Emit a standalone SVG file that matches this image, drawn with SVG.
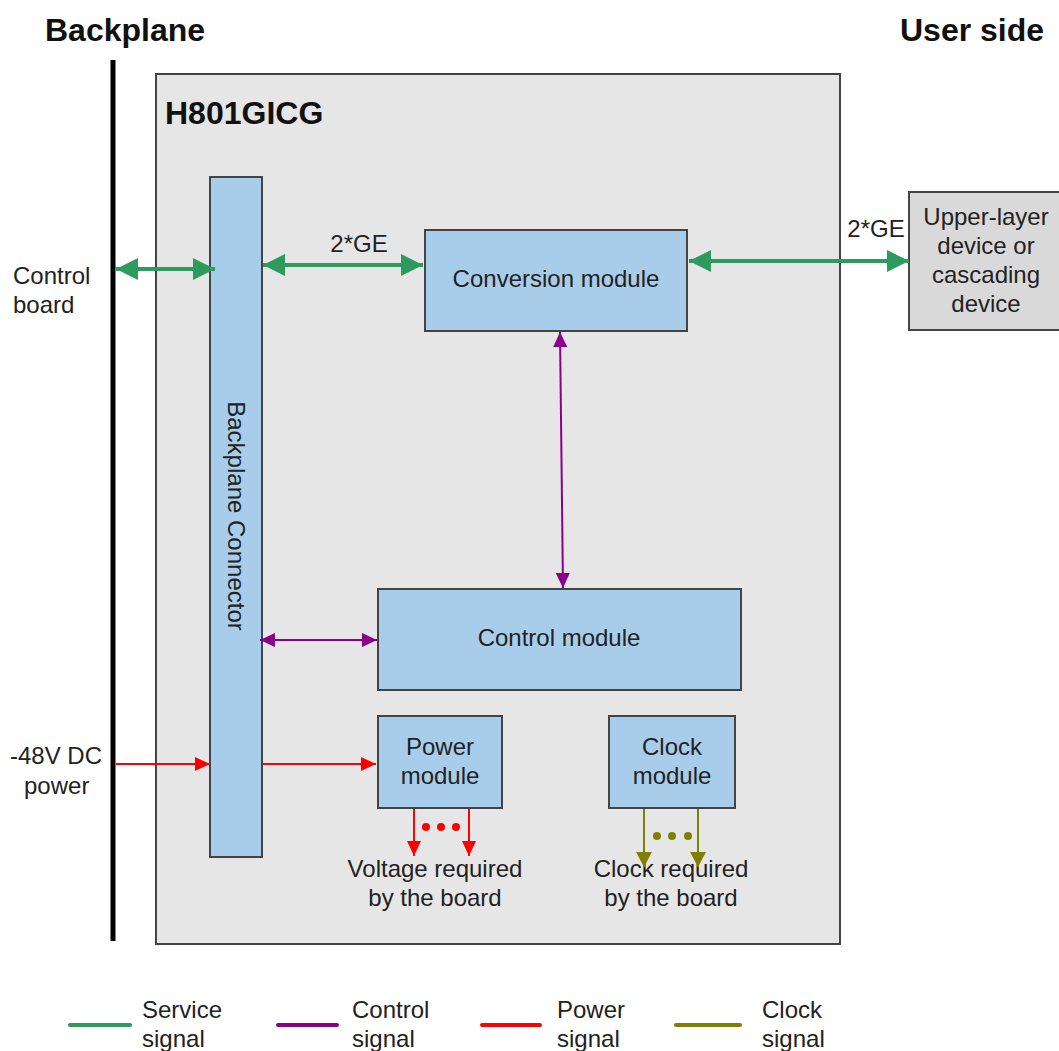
<svg xmlns="http://www.w3.org/2000/svg" width="1059" height="1051" viewBox="0 0 1059 1051">
<style>
text{font-family:"Liberation Sans",Arial,sans-serif;fill:#222}
.t{font-size:24px;text-anchor:middle}
.l{font-size:24px}
.b{font-size:32px;font-weight:bold;fill:#111}
.mod{fill:#a8cdeb;stroke:#444;stroke-width:2}
.svc{stroke:#2e9b5e;stroke-width:4;fill:none}
.ctl{stroke:#8b008b;stroke-width:2;fill:none}
.pwr{stroke:#ff0000;stroke-width:2;fill:none}
.clk{stroke:#808000;stroke-width:2;fill:none}
</style>
<defs>
<marker id="mg" markerUnits="userSpaceOnUse" markerWidth="24" markerHeight="22" refX="22" refY="11" orient="auto-start-reverse"><path d="M0,0L22,11L0,22Z" fill="#2e9b5e"/></marker>
<marker id="mp" markerUnits="userSpaceOnUse" markerWidth="16" markerHeight="14" refX="15" refY="7" orient="auto-start-reverse"><path d="M0,0L15,7L0,14Z" fill="#8b008b"/></marker>
<marker id="mr" markerUnits="userSpaceOnUse" markerWidth="16" markerHeight="14" refX="15" refY="7" orient="auto"><path d="M0,0L15,7L0,14Z" fill="#ff0000"/></marker>
<marker id="mo" markerUnits="userSpaceOnUse" markerWidth="16" markerHeight="16" refX="15" refY="8" orient="auto"><path d="M0,0L15,8L0,16Z" fill="#808000"/></marker>
</defs>
<rect width="1059" height="1051" fill="#fff"/>
<text class="b" x="45" y="41">Backplane</text>
<text class="b" x="900" y="41">User side</text>
<line x1="113" y1="60" x2="113" y2="941" stroke="#000" stroke-width="5"/>
<g id="board">
<rect x="156" y="74" width="684" height="870" fill="#e6e6e6" stroke="#444" stroke-width="2"/>
<text class="b" x="165" y="124">H801GICG</text>
</g>
<g id="backplane-connector">
<rect class="mod" x="210" y="177" width="52" height="680"/>
<text class="t" transform="translate(236,516) rotate(90)" y="8">Backplane Connector</text>
</g>
<g id="conversion-module">
<rect class="mod" x="425" y="230" width="262" height="101"/>
<text class="t" x="556" y="287">Conversion module</text>
</g>
<g id="control-module">
<rect class="mod" x="378" y="589" width="363" height="101"/>
<text class="t" x="559" y="646">Control module</text>
</g>
<g id="power-module">
<rect class="mod" x="378" y="716" width="124" height="92"/>
<text class="t" x="440" y="755">Power</text>
<text class="t" x="440" y="784">module</text>
</g>
<g id="clock-module">
<rect class="mod" x="609" y="716" width="126" height="92"/>
<text class="t" x="672" y="755">Clock</text>
<text class="t" x="672" y="784">module</text>
</g>
<g id="upper-device">
<rect x="909" y="192" width="152" height="138" fill="#d9d9d9" stroke="#444" stroke-width="2"/>
<text class="t" x="986" y="225">Upper-layer</text>
<text class="t" x="986" y="254">device or</text>
<text class="t" x="986" y="283">cascading</text>
<text class="t" x="986" y="312">device</text>
</g>
<g id="labels">
<text class="l" x="13" y="284">Control</text>
<text class="l" x="13" y="313">board</text>
<text class="l" x="10" y="764">-48V DC</text>
<text class="l" x="24" y="794">power</text>
<text class="t" x="359" y="252">2*GE</text>
<text class="t" x="876" y="237">2*GE</text>
<text class="t" x="435" y="877">Voltage required</text>
<text class="t" x="435" y="906">by the board</text>
<text class="t" x="671" y="877">Clock required</text>
<text class="t" x="671" y="906">by the board</text>
</g>
<g id="connectors">
<line class="svc" x1="116" y1="269" x2="215" y2="269" marker-start="url(#mg)" marker-end="url(#mg)"/>
<line class="svc" x1="263" y1="265" x2="423" y2="265" marker-start="url(#mg)" marker-end="url(#mg)"/>
<line class="svc" x1="689" y1="261" x2="909" y2="261" marker-start="url(#mg)" marker-end="url(#mg)"/>
<line class="ctl" x1="560" y1="332" x2="563" y2="588" marker-start="url(#mp)" marker-end="url(#mp)"/>
<line class="ctl" x1="260" y1="640" x2="377" y2="640" marker-start="url(#mp)" marker-end="url(#mp)"/>
<line class="pwr" x1="116" y1="764" x2="210" y2="764" marker-end="url(#mr)"/>
<line class="pwr" x1="263" y1="764" x2="376" y2="764" marker-end="url(#mr)"/>
<line class="pwr" x1="414" y1="809" x2="414" y2="856" marker-end="url(#mr)"/>
<line class="pwr" x1="469" y1="809" x2="469" y2="856" marker-end="url(#mr)"/>
<g fill="#ff0000"><circle cx="426" cy="827" r="4"/><circle cx="441" cy="827" r="4"/><circle cx="456" cy="827" r="4"/></g>
<line class="clk" x1="644" y1="809" x2="644" y2="867" marker-end="url(#mo)"/>
<line class="clk" x1="698" y1="809" x2="698" y2="867" marker-end="url(#mo)"/>
<g fill="#808000"><circle cx="657" cy="836" r="4"/><circle cx="672" cy="836" r="4"/><circle cx="688" cy="836" r="4"/></g>
</g>
<g id="legend">
<line x1="70" y1="1025" x2="130" y2="1025" stroke="#2e9b5e" stroke-width="4" stroke-linecap="round"/>
<text class="l" x="142" y="1018">Service</text><text class="l" x="142" y="1047">signal</text>
<line x1="278" y1="1025" x2="337" y2="1025" stroke="#8b008b" stroke-width="4" stroke-linecap="round"/>
<text class="l" x="352" y="1018">Control</text><text class="l" x="352" y="1047">signal</text>
<line x1="482" y1="1025" x2="540" y2="1025" stroke="#ff0000" stroke-width="4" stroke-linecap="round"/>
<text class="l" x="557" y="1018">Power</text><text class="l" x="557" y="1047">signal</text>
<line x1="676" y1="1025" x2="740" y2="1025" stroke="#808000" stroke-width="4" stroke-linecap="round"/>
<text class="l" x="762" y="1018">Clock</text><text class="l" x="762" y="1047">signal</text>
</g>
</svg>
